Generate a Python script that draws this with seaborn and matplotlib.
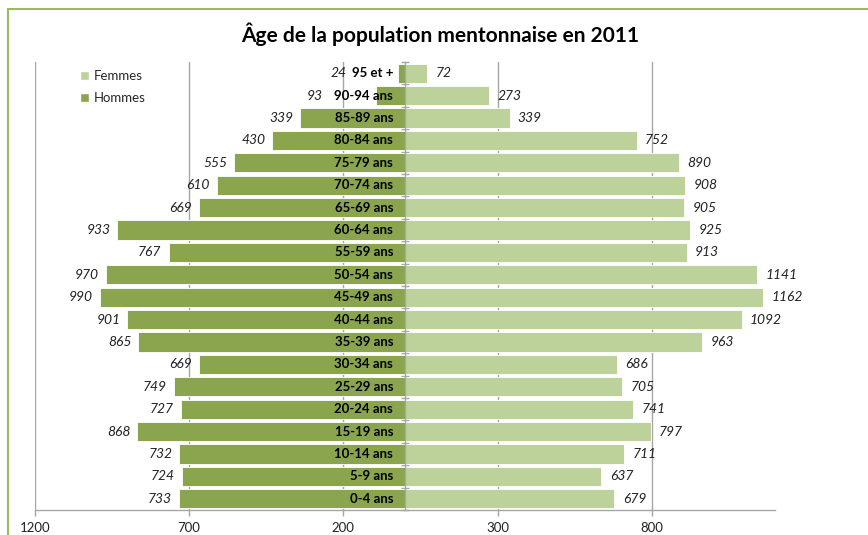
import matplotlib
matplotlib.use("Agg")
import matplotlib.pyplot as plt
from matplotlib.patches import Patch, Rectangle
import seaborn as sns
import pandas as pd

# ---- data (bottom to top) ----
categories = ["0-4 ans", "5-9 ans", "10-14 ans", "15-19 ans", "20-24 ans", "25-29 ans",
              "30-34 ans", "35-39 ans", "40-44 ans", "45-49 ans", "50-54 ans", "55-59 ans",
              "60-64 ans", "65-69 ans", "70-74 ans", "75-79 ans", "80-84 ans", "85-89 ans",
              "90-94 ans", "95 et +"]
hommes = [733, 724, 732, 868, 727, 749, 669, 865, 901, 990, 970, 767, 933, 669, 610,
          555, 430, 339, 93, 24]
femmes = [679, 637, 711, 797, 741, 705, 686, 963, 1092, 1162, 1141, 913, 925, 905, 908,
          890, 752, 339, 273, 72]
tick_values = [-1200, -700, -200, 300, 800]
tick_labels = ["1200", "700", "200", "300", "800"]
title = "Âge de la population mentonnaise en 2011"

c_h = "#8ba54f"
c_f = "#bdd29b"

sns.set_theme(style="white")
plt.rcParams["font.family"] = ["Lato", "DejaVu Sans"]

df = pd.DataFrame({"age": categories,
                   "Hommes": [-v for v in hommes],
                   "Femmes": femmes})
order = categories[::-1]

fig = plt.figure(figsize=(8.68, 5.35), dpi=100)
ax = fig.add_axes([35 / 868, 1 - 510 / 535, 740 / 868, 448 / 535])

sns.barplot(data=df, x="Hommes", y="age", order=order, orient="h", color=c_h,
            saturation=1, width=0.86, ax=ax, edgecolor="white", linewidth=0.6)
sns.barplot(data=df, x="Femmes", y="age", order=order, orient="h", color=c_f,
            saturation=1, width=0.86, ax=ax, edgecolor="white", linewidth=0.6)

ax.set_xlim(-1200, 1200)
ax.set_ylim(len(order) - 0.5, -0.5)
ax.set_xlabel("")
ax.set_ylabel("")

# gridlines
ax.set_xticks(tick_values)
ax.set_xticklabels(tick_labels, fontsize=9.5, color="#222222")
ax.grid(axis="x", color="#a6a6a6", linewidth=1.0)
ax.grid(axis="y", visible=False)
ax.set_axisbelow(True)

# spines
for s in ["top", "right"]:
    ax.spines[s].set_visible(False)
ax.spines["bottom"].set_color("#a6a6a6")
ax.spines["bottom"].set_linewidth(1.0)
ax.spines["left"].set_position(("data", 0))
ax.spines["left"].set_color("#a6a6a6")
ax.spines["left"].set_linewidth(1.0)
ax.spines["left"].set_zorder(3)
ax.set_yticks([i - 0.5 for i in range(len(order) + 1)])
ax.set_yticklabels([])
ax.tick_params(axis="y", direction="inout", length=6, color="#a6a6a6", width=1.0, left=True)
ax.tick_params(axis="x", direction="out", length=4, color="#a6a6a6", width=1.0, bottom=True,
               pad=4.5)

# labels
overrides = {"90-94 ans": -268, "95 et +": -190}
for i, cat in enumerate(order):
    h = hommes[categories.index(cat)]
    f = femmes[categories.index(cat)]
    if cat in overrides:
        ax.annotate(str(h), xy=(overrides[cat], i), xytext=(0, 0), textcoords="offset points",
                    ha="right", va="center", fontsize=10, style="italic", color="#222222")
    else:
        ax.annotate(str(h), xy=(-h, i), xytext=(-5, 0), textcoords="offset points",
                    ha="right", va="center", fontsize=10, style="italic", color="#222222")
    ax.annotate(str(f), xy=(f, i), xytext=(6, 0), textcoords="offset points",
                ha="left", va="center", fontsize=10, style="italic", color="#222222")
    ax.annotate(cat, xy=(0, i), xytext=(-8.5, 0), textcoords="offset points",
                ha="right", va="center", fontsize=9.5, fontweight="bold", color="black",
                zorder=5)

# legend
handles = [Patch(facecolor=c_f, label="Femmes"), Patch(facecolor=c_h, label="Hommes")]
ax.legend(handles=handles, loc="upper left", bbox_to_anchor=(0.045, 1.008), frameon=False,
          handlelength=0.7, handleheight=0.7, handletextpad=0.3, labelspacing=0.75,
          fontsize=9.5)

fig.text(440 / 868, 1 - 34 / 535, title, ha="center", va="center", fontsize=15,
         fontweight="bold", color="black")

# chart border (green)
fig.patches.append(Rectangle((8 / 868, -0.05), 1.2, 1 - 9 / 535 + 0.05,
                             transform=fig.transFigure, fill=False, edgecolor="#9bbb59",
                             linewidth=1.5))

fig.savefig("out.png", dpi=100)
